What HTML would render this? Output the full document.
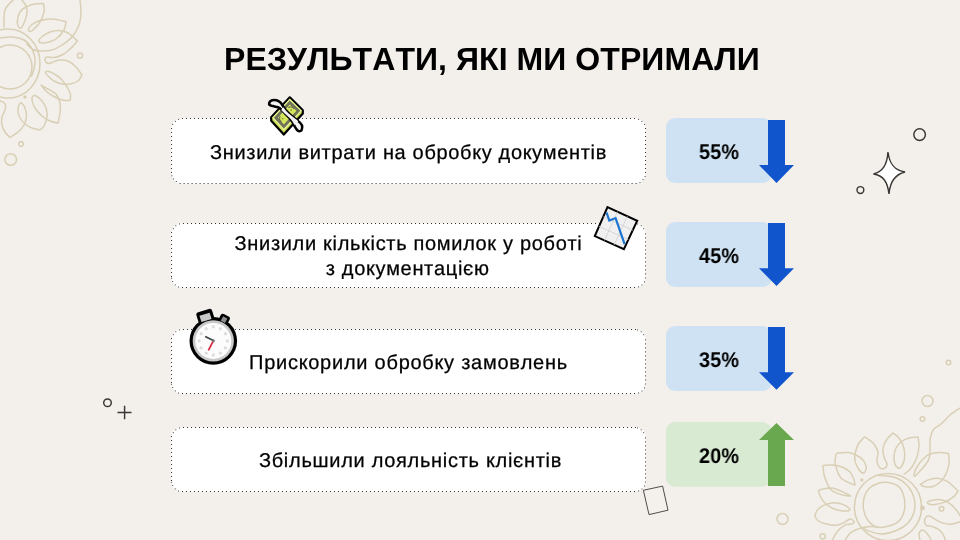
<!DOCTYPE html>
<html><head><meta charset="utf-8">
<style>
html,body{margin:0;padding:0;}
body{width:960px;height:540px;overflow:hidden;background:#f3f0ec;font-family:"Liberation Sans",sans-serif;position:relative;}
.abs{position:absolute;}
#title,.tx,.pt{will-change:transform;text-rendering:geometricPrecision;font-kerning:none;}
#title{font-kerning:none;position:absolute;left:0;width:984px;top:40.85px;text-align:center;font-weight:bold;font-size:32px;line-height:36px;color:#000;white-space:nowrap;letter-spacing:0.07px;}
.tx{position:absolute;left:171px;width:475px;text-align:center;font-size:20px;line-height:25px;color:#000;letter-spacing:0.72px;-webkit-text-stroke:0.25px #000;white-space:nowrap;}
.pt{position:absolute;left:666.25px;width:106px;text-align:center;font-weight:bold;font-size:21.3px;line-height:24px;color:#000;letter-spacing:0.2px;transform:scaleX(0.93);}
</style></head><body>
<svg class="abs" style="left:0;top:0" width="960" height="540" viewBox="0 0 960 540">
<g fill="none" stroke="#d9cfb5" stroke-width="1.5" stroke-linejoin="round" stroke-linecap="round">
<path d="M4.0 27.0C4.2 24.2 3.5 14.5 5.0 10.0C6.5 5.5 11.7 1.7 13.0 0.0M22.0 0.0C22.7 1.0 25.2 3.8 26.0 6.0C26.8 8.2 27.3 10.2 27.0 13.0C26.7 15.8 25.0 20.5 24.0 23.0C23.0 25.5 22.0 27.5 21.0 28.0C20.0 28.5 18.6 27.3 18.0 26.0C17.4 24.7 17.2 22.3 17.5 20.0C17.8 17.7 18.6 14.2 20.0 12.0C21.4 9.8 23.5 8.3 26.0 7.0C28.5 5.7 32.1 4.6 35.0 4.0C37.9 3.4 42.1 3.6 43.5 3.5M43.5 3.5C43.6 4.9 44.6 8.9 44.0 12.0C43.4 15.1 41.8 19.0 40.0 22.0C38.2 25.0 34.7 28.4 33.0 30.0C31.3 31.6 30.8 31.7 30.0 31.5C29.2 31.3 28.2 30.2 28.5 29.0C28.8 27.8 30.1 25.9 32.0 24.5C33.9 23.1 36.7 21.4 40.0 20.5C43.3 19.6 47.7 18.8 52.0 19.0C56.3 19.2 63.7 21.1 66.0 21.5M66.0 21.5C65.7 22.9 65.7 27.1 64.0 30.0C62.3 32.9 58.8 36.9 56.0 39.0C53.2 41.1 49.7 41.9 47.0 42.5C44.3 43.1 41.3 42.9 40.0 42.5C38.7 42.1 38.5 41.1 39.0 40.0C39.5 38.9 41.2 37.3 43.0 36.0C44.8 34.7 47.3 32.9 50.0 32.0C52.7 31.1 56.0 30.3 59.0 30.5C62.0 30.7 64.9 31.2 68.0 33.0C71.1 34.8 75.9 39.7 77.5 41.0M77.5 41.0C76.2 42.3 72.6 46.7 70.0 49.0C67.4 51.3 64.7 53.6 62.0 55.0C59.3 56.4 56.5 57.2 54.0 57.5C51.5 57.8 48.5 56.6 47.0 57.0C45.5 57.4 44.8 58.9 45.0 60.0C45.2 61.1 46.8 63.1 48.0 63.5C49.2 63.9 50.2 63.1 52.0 62.5C53.8 61.9 56.3 60.2 59.0 60.0C61.7 59.8 65.2 59.8 68.0 61.0C70.8 62.2 73.7 64.7 76.0 67.0C78.3 69.3 81.0 73.7 82.0 75.0M82.0 75.0C81.3 76.0 80.0 79.5 78.0 81.0C76.0 82.5 72.7 83.5 70.0 84.0C67.3 84.5 64.7 84.5 62.0 84.0C59.3 83.5 56.3 82.3 54.0 81.0C51.7 79.7 49.4 77.4 48.0 76.0C46.6 74.6 45.3 73.2 45.5 72.5C45.7 71.8 47.2 71.1 49.0 71.5C50.8 71.9 53.8 73.6 56.0 75.0C58.2 76.4 60.2 78.0 62.0 80.0C63.8 82.0 65.6 84.7 67.0 87.0C68.4 89.3 70.0 91.8 70.5 94.0C71.0 96.2 70.1 99.4 70.0 100.5M70.0 100.5C68.7 100.4 64.8 100.8 62.0 100.0C59.2 99.2 55.7 97.5 53.0 96.0C50.3 94.5 48.0 92.8 46.0 91.0C44.0 89.2 41.8 86.0 41.0 85.0M41.0 85.0C42.2 85.7 45.5 87.5 48.0 89.0C50.5 90.5 54.0 91.7 56.0 94.0C58.0 96.3 59.3 99.8 60.0 103.0C60.7 106.2 60.3 109.7 60.0 113.0C59.7 116.3 58.3 121.3 58.0 123.0M58.0 123.0C56.7 122.7 52.7 122.2 50.0 121.0C47.3 119.8 44.5 118.2 42.0 116.0C39.5 113.8 36.7 110.7 35.0 108.0C33.3 105.3 32.3 102.0 32.0 100.0C31.7 98.0 32.2 96.6 33.0 96.0C33.8 95.4 35.5 95.7 37.0 96.5C38.5 97.3 40.5 99.1 42.0 101.0C43.5 102.9 45.2 105.3 46.0 108.0C46.8 110.7 47.3 114.0 47.0 117.0C46.7 120.0 45.2 123.8 44.0 126.0C42.8 128.2 40.7 129.3 40.0 130.0M40.0 130.0C38.7 129.7 34.5 129.0 32.0 128.0C29.5 127.0 27.0 125.7 25.0 124.0C23.0 122.3 21.2 120.2 20.0 118.0C18.8 115.8 18.2 113.2 18.0 111.0C17.8 108.8 18.4 106.3 19.0 105.0C19.6 103.7 20.5 102.5 21.5 103.0C22.5 103.5 24.2 105.8 25.0 108.0C25.8 110.2 26.7 113.2 26.5 116.0C26.3 118.8 25.4 122.3 24.0 125.0C22.6 127.7 20.3 129.9 18.0 132.0C15.7 134.1 11.3 136.6 10.0 137.5M10.0 137.5C9.2 136.6 6.3 134.1 5.0 132.0C3.7 129.9 2.5 127.5 2.0 125.0C1.5 122.5 1.5 119.5 2.0 117.0C2.5 114.5 4.4 112.0 5.0 110.0C5.6 108.0 5.8 106.3 5.5 105.0C5.2 103.7 3.9 102.7 3.0 102.0C2.1 101.3 0.5 101.2 0.0 101.0M80.0 0.0C80.2 2.2 81.2 8.8 81.0 13.0C80.8 17.2 80.5 21.0 79.0 25.0C77.5 29.0 74.8 33.7 72.0 37.0C69.2 40.3 65.3 42.8 62.0 45.0C58.7 47.2 55.7 49.0 52.0 50.0C48.3 51.0 43.3 51.2 40.0 51.0C36.7 50.8 34.2 50.2 32.0 49.0C29.8 47.8 27.8 44.8 27.0 44.0M0.0 38.0C2.0 37.8 8.0 36.7 12.0 37.0C16.0 37.3 20.8 38.3 24.0 40.0C27.2 41.7 29.3 44.7 31.0 47.0C32.7 49.3 33.3 51.7 34.0 54.0C34.7 56.3 35.0 58.5 35.0 61.0C35.0 63.5 34.6 66.5 34.0 69.0C33.4 71.5 31.9 74.8 31.5 76.0"/>
<path d="M893.0 433.0C892.0 434.0 888.7 436.5 887.0 439.0C885.3 441.5 883.5 445.0 883.0 448.0C882.5 451.0 883.3 454.3 884.0 457.0C884.7 459.7 886.8 462.2 887.0 464.0C887.2 465.8 886.0 467.2 885.0 468.0C884.0 468.8 882.2 469.0 881.0 468.5C879.8 468.0 878.7 466.6 878.0 465.0C877.3 463.4 877.0 461.2 877.0 459.0C877.0 456.8 878.5 454.5 878.0 452.0C877.5 449.5 875.7 446.2 874.0 444.0C872.3 441.8 869.6 440.2 868.0 439.0C866.4 437.8 865.1 437.3 864.5 437.0M864.5 437.0C863.6 438.0 860.5 440.5 859.0 443.0C857.5 445.5 856.2 449.0 855.5 452.0C854.8 455.0 854.6 458.3 855.0 461.0C855.4 463.7 856.8 466.0 858.0 468.0C859.2 470.0 861.2 472.5 862.5 473.0C863.8 473.5 864.9 472.2 865.5 471.0C866.1 469.8 866.4 467.8 866.0 466.0C865.6 464.2 864.7 461.8 863.0 460.0C861.3 458.2 858.5 456.2 856.0 455.0C853.5 453.8 851.0 452.8 848.0 452.5C845.0 452.2 840.0 452.7 838.0 453.0C836.0 453.3 836.3 454.2 836.0 454.5M836.0 454.5C835.8 455.8 834.8 459.4 835.0 462.0C835.2 464.6 836.0 467.3 837.0 470.0C838.0 472.7 838.9 475.8 841.0 478.0C843.1 480.2 847.3 482.0 849.6 483.2C851.9 484.4 854.1 484.7 855.0 485.0M855.0 485.0C854.8 484.0 854.6 481.1 853.8 478.9C853.0 476.7 852.0 474.0 850.0 472.0C848.0 470.0 844.8 468.2 842.0 467.0C839.2 465.8 836.2 465.2 833.0 465.0C829.8 464.8 824.7 465.4 823.0 465.5M823.0 465.5C823.1 466.9 823.4 471.4 823.9 474.0C824.4 476.6 825.3 478.9 826.3 481.3C827.3 483.8 828.4 486.8 830.0 488.7C831.6 490.6 833.6 491.8 836.1 492.9C838.6 494.0 842.2 494.9 844.7 495.4C847.2 495.9 849.8 495.9 850.8 496.0M850.8 496.0C849.2 495.2 844.1 492.4 841.0 491.1C837.9 489.8 835.2 488.5 832.4 488.1C829.5 487.7 826.2 488.3 823.9 488.7C821.6 489.1 819.3 490.2 818.4 490.5M818.4 490.5C818.7 491.4 819.1 493.9 820.2 496.0C821.3 498.1 823.1 501.3 825.1 503.3C827.1 505.3 829.8 507.0 832.4 508.2C835.0 509.4 838.4 510.3 841.0 510.7C843.6 511.1 846.9 511.0 848.3 510.7C849.7 510.4 850.4 509.8 849.6 508.8C848.8 507.8 846.0 505.6 843.5 504.6C841.0 503.6 838.0 502.7 834.9 502.7C831.8 502.7 828.0 503.5 825.1 504.6C822.2 505.7 819.5 507.7 817.8 509.5C816.1 511.3 815.2 514.6 814.7 515.6M814.7 515.6C815.2 516.4 815.9 519.1 817.8 520.5C819.7 521.9 823.2 523.3 826.3 524.1C829.3 524.9 833.2 525.5 836.1 525.3C839.0 525.1 841.2 523.9 843.5 522.9C845.8 521.9 848.0 519.6 849.6 519.2C851.2 518.8 852.5 519.9 853.2 520.5C853.9 521.1 854.2 522.3 853.8 522.9C853.4 523.5 852.3 523.7 850.8 524.1C849.3 524.5 847.0 524.1 844.7 525.3C842.5 526.5 839.3 529.0 837.3 531.5C835.2 534.0 833.2 538.6 832.4 540.0M893.0 433.0C893.8 433.7 896.4 435.2 898.0 437.0C899.6 438.8 901.4 441.5 902.5 444.0C903.6 446.5 904.2 449.2 904.5 452.0C904.8 454.8 904.6 458.5 904.0 461.0C903.4 463.5 902.0 465.8 901.0 467.0C900.0 468.2 899.0 468.5 898.0 468.0C897.0 467.5 895.7 466.0 895.0 464.0C894.3 462.0 893.8 458.7 894.0 456.0C894.2 453.3 894.8 450.3 896.0 448.0C897.2 445.7 898.8 443.7 901.0 442.0C903.2 440.3 906.2 438.8 909.0 438.0C911.8 437.2 916.5 437.2 918.0 437.0M918.0 437.0C918.2 438.5 919.2 442.7 919.0 446.0C918.8 449.3 918.2 453.5 917.0 457.0C915.8 460.5 913.8 464.3 912.0 467.0C910.2 469.7 907.3 471.8 906.0 473.0C904.7 474.2 904.3 473.8 904.0 474.0M960.0 408.0C958.3 409.2 953.2 412.3 950.0 415.0C946.8 417.7 943.7 421.7 941.0 424.0C938.3 426.3 935.8 426.8 934.0 429.0C932.2 431.2 931.2 434.2 930.5 437.0C929.8 439.8 930.2 442.7 930.0 446.0C929.8 449.3 930.2 454.0 929.5 457.0C928.8 460.0 927.6 461.7 926.0 464.0C924.4 466.3 921.8 469.0 920.0 471.0C918.2 473.0 916.0 475.5 915.0 476.0C914.0 476.5 913.7 475.5 914.0 474.0C914.3 472.5 915.5 469.5 917.0 467.0C918.5 464.5 920.8 461.2 923.0 459.0C925.2 456.8 927.3 455.1 930.0 454.0C932.7 452.9 935.9 452.6 939.0 452.5C942.1 452.4 946.9 453.3 948.5 453.5M948.5 453.5C948.6 455.2 949.4 460.6 949.0 464.0C948.6 467.4 947.3 471.1 946.0 474.0C944.7 476.9 943.0 479.3 941.0 481.3C939.0 483.3 936.4 485.3 933.7 486.2C931.1 487.1 927.4 487.1 925.1 486.8C922.9 486.5 921.0 484.8 920.2 484.4M920.2 484.4C921.4 483.7 924.8 481.1 927.6 480.1C930.5 479.1 934.0 478.1 937.3 478.3C940.5 478.5 944.0 479.6 947.1 481.3C950.2 483.0 953.9 487.1 955.7 488.7C957.5 490.3 957.7 490.7 958.1 491.1M958.1 491.1C957.3 492.1 955.4 495.4 953.2 497.2C951.0 499.0 947.8 500.9 944.7 502.1C941.7 503.3 937.5 504.3 934.9 504.6C932.2 504.9 930.0 504.4 928.8 504.0C927.6 503.6 927.0 502.7 927.6 502.1C928.2 501.5 930.3 500.7 932.5 500.3C934.7 499.9 938.1 499.2 941.0 499.7C943.9 500.2 947.0 501.5 949.6 503.3C952.2 505.1 955.2 508.6 956.9 510.7C958.6 512.8 959.5 514.8 960.0 515.6M960.0 521.7C958.7 522.1 955.0 523.9 952.0 524.1C949.0 524.3 945.1 523.7 942.2 522.9C939.4 522.1 936.9 520.3 934.9 519.2C932.9 518.1 931.4 516.6 930.0 516.2C928.6 515.8 927.2 515.9 926.3 516.8C925.4 517.7 924.5 520.3 924.5 521.7C924.5 523.1 925.0 524.5 926.3 525.3C927.6 526.1 930.2 525.8 932.5 526.6C934.8 527.4 937.8 528.4 939.8 530.2C941.8 532.0 943.9 535.8 944.7 537.6C945.5 539.4 944.7 540.4 944.7 541.0M920.2 541.0C920.0 539.8 918.8 535.7 919.0 533.9C919.2 532.1 920.5 530.6 921.5 530.2C922.5 529.8 923.7 530.3 925.1 531.5C926.5 532.7 929.0 536.0 930.0 537.6C931.0 539.2 931.0 540.4 931.2 541.0M844.7 541.0C845.7 539.6 847.9 534.9 850.8 532.7C853.6 530.5 858.3 528.8 861.8 527.8C865.3 526.8 869.1 526.7 871.6 526.6C874.1 526.5 876.1 526.9 877.0 527.0M878.7 475.2C881.6 475.6 890.9 475.9 895.8 477.7C900.7 479.5 905.0 482.8 908.0 486.2C911.0 489.6 913.1 494.1 914.1 498.4C915.1 502.7 915.1 507.8 914.1 511.9C913.1 516.0 910.9 519.8 908.0 522.9C905.1 526.0 901.3 528.4 897.0 530.2C892.7 532.0 886.8 533.7 882.3 533.9C877.8 534.1 873.4 532.6 870.0 531.5C866.6 530.4 863.3 528.2 862.0 527.5"/>
<path d="M888.4 482.6C892.1 483.2 896.9 484.8 899.5 487.4C902.1 490.0 903.5 494.5 904.3 498.4C905.1 502.3 905.1 507.0 904.3 510.7C903.5 514.4 901.9 518.0 899.5 520.5C897.1 523.0 893.5 524.7 889.7 525.8C886.0 526.9 880.6 527.9 877.0 527.0C873.4 526.1 870.2 523.4 868.0 520.5C865.8 517.6 864.2 513.4 863.6 509.5C863.0 505.6 863.3 500.7 864.2 497.2C865.1 493.7 866.9 490.7 869.0 488.5C871.1 486.3 873.8 484.8 877.0 483.8C880.2 482.8 884.6 482.0 888.4 482.6Z"/>
<ellipse cx="8.0" cy="63.5" rx="32.0" ry="34.5"/>
<circle cx="10.0" cy="67.0" r="22.0"/>
<circle cx="888.0" cy="507.0" r="33.6"/>
<circle cx="927.5" cy="401.0" r="5.5"/>
<circle cx="922.5" cy="419.0" r="2.3"/>
<circle cx="948.5" cy="362.5" r="2.3"/>
<circle cx="782.5" cy="519.0" r="5.5"/>
<circle cx="941.6" cy="508.8" r="2.3"/>
<circle cx="822.7" cy="536.3" r="2.6"/>
<circle cx="80.0" cy="55.5" r="2.6"/>
<circle cx="21.0" cy="144.0" r="2.3"/>
<circle cx="10.7" cy="159.5" r="5.8"/>
</g>
<g fill="#d9cfb5"><circle cx="922.4" cy="508" r="2.4"/><circle cx="861.8" cy="480" r="1.7"/><circle cx="25" cy="97" r="1.7"/></g>

<!-- boxes -->
<g><rect x="171.5" y="118.5" width="474" height="65" rx="9.5" fill="#fff"/><g stroke="#333" stroke-width="1" stroke-dasharray="1 3" fill="none"><path d="M182 118.5H635"/><path d="M171.5 128V173"/><path d="M645.5 128V173"/><path d="M179.6 183.5H636.7"/></g><g fill="#444"><rect x="178.1" y="118.9" width="1" height="1"/><rect x="174.9" y="120.9" width="1" height="1"/><rect x="172.2" y="123.9" width="1" height="1"/><rect x="638.1" y="118.9" width="1" height="1"/><rect x="641.4" y="120.9" width="1" height="1"/><rect x="644.0" y="123.9" width="1" height="1"/><rect x="171.4" y="175.3" width="1" height="1"/><rect x="172.9" y="178.4" width="1" height="1"/><rect x="175.8" y="181.0" width="1" height="1"/><rect x="644.6" y="176.0" width="1" height="1"/><rect x="642.5" y="179.1" width="1" height="1"/><rect x="639.5" y="181.9" width="1" height="1"/></g></g>
<g><rect x="171.5" y="223.5" width="474" height="64" rx="9.5" fill="#fff"/><g stroke="#333" stroke-width="1" stroke-dasharray="1 3" fill="none"><path d="M183 223.5H636"/><path d="M171.5 232V277"/><path d="M645.5 274.4V231"/><path d="M182 287.5H635"/></g><g fill="#4a4a4a"><rect x="179.0" y="223.5" width="1" height="1"/><rect x="175.3" y="225.3" width="1" height="1"/><rect x="172.9" y="228.2" width="1" height="1"/><rect x="637.0" y="223.5" width="1" height="1"/><rect x="640.7" y="225.3" width="1" height="1"/><rect x="643.1" y="228.2" width="1" height="1"/><rect x="171.1" y="277.8" width="1" height="1"/><rect x="172.2" y="281.0" width="1" height="1"/><rect x="174.8" y="284.4" width="1" height="1"/><rect x="178.0" y="286.5" width="1" height="1"/><rect x="638.1" y="286.4" width="1" height="1"/><rect x="641.4" y="284.5" width="1" height="1"/><rect x="644.0" y="281.4" width="1" height="1"/><rect x="644.9" y="277.5" width="1" height="1"/></g></g>
<g><rect x="171.5" y="329.5" width="474" height="64" rx="9.5" fill="#fff"/><g stroke="#333" stroke-width="1" stroke-dasharray="1 3" fill="none"><path d="M183 329.5H636"/><path d="M171.5 338V383"/><path d="M645.5 380.4V337"/><path d="M182 393.5H635"/></g><g fill="#4a4a4a"><rect x="179.0" y="329.5" width="1" height="1"/><rect x="175.3" y="331.3" width="1" height="1"/><rect x="172.9" y="334.2" width="1" height="1"/><rect x="637.0" y="329.5" width="1" height="1"/><rect x="640.7" y="331.3" width="1" height="1"/><rect x="643.1" y="334.2" width="1" height="1"/><rect x="171.1" y="383.8" width="1" height="1"/><rect x="172.2" y="387.0" width="1" height="1"/><rect x="174.8" y="390.4" width="1" height="1"/><rect x="178.0" y="392.5" width="1" height="1"/><rect x="638.1" y="392.4" width="1" height="1"/><rect x="641.4" y="390.5" width="1" height="1"/><rect x="644.0" y="387.4" width="1" height="1"/><rect x="644.9" y="383.5" width="1" height="1"/></g></g>
<g><rect x="171.5" y="427.5" width="474" height="64" rx="9.5" fill="#fff"/><g stroke="#333" stroke-width="1" stroke-dasharray="1 3" fill="none"><path d="M183 427.5H636"/><path d="M171.5 436V481"/><path d="M645.5 478.4V435"/><path d="M182 491.5H635"/></g><g fill="#4a4a4a"><rect x="179.0" y="427.5" width="1" height="1"/><rect x="175.3" y="429.3" width="1" height="1"/><rect x="172.9" y="432.2" width="1" height="1"/><rect x="637.0" y="427.5" width="1" height="1"/><rect x="640.7" y="429.3" width="1" height="1"/><rect x="643.1" y="432.2" width="1" height="1"/><rect x="171.1" y="481.8" width="1" height="1"/><rect x="172.2" y="485.0" width="1" height="1"/><rect x="174.8" y="488.4" width="1" height="1"/><rect x="178.0" y="490.5" width="1" height="1"/><rect x="638.1" y="490.4" width="1" height="1"/><rect x="641.4" y="488.5" width="1" height="1"/><rect x="644.0" y="485.4" width="1" height="1"/><rect x="644.9" y="481.5" width="1" height="1"/></g></g>

<g fill="#cfe2f3">
<rect x="666" y="118" width="106" height="65" rx="9"/>
<rect x="666" y="222" width="106" height="65" rx="9"/>
<rect x="666" y="326" width="106" height="65" rx="9"/>
</g>
<rect x="666" y="422" width="105.5" height="64.7" rx="9" fill="#d9ead3"/>
<g fill="#1155cc">
<path d="M768 120h17v45h9l-17.5 18l-17.5-18h9z"/>
<path d="M768 223.1h17v45.1h9l-17.5 17.8l-17.5-17.8h9z"/>
<path d="M768 326.9h17v45.4h9l-17.5 17.5l-17.5-17.5h9z"/>
</g>
<path fill="#6aa84f" d="M768 486h17v-46h9l-17.5-17l-17.5 17h9z"/>
<!-- star + circles -->
<g fill="none" stroke="#3a3634" stroke-width="1.45">
<path fill="#fff" d="M888 152C889.5 165 895 170.5 905 172C895 174.5 890 181 889 194C887.5 181 883 175.5 873.5 174C883 171.5 887 165 888 152Z"/>
<circle cx="919.6" cy="134.6" r="5.8"/>
<circle cx="860.4" cy="190" r="3.4"/>
<circle cx="107.5" cy="402.7" r="3.8"/>
<path d="M117.5 412.5H131.5M124.6 405.8V419.2"/>
</g>
<!-- rotated square -->
<path d="M643.4 490.3L662.6 486.1L668 510.2L649 514.6Z" fill="#f4f1ed" stroke="#222" stroke-width="0.8"/>
<!-- money icon -->
<g stroke-linejoin="round">
<path d="M289.8 97.3L302.8 110.2L302.8 113.5L283.8 134.6L271.2 120.8L271.2 117.2Z" fill="#c9d94f" stroke="#000" stroke-width="2.2"/>
<path d="M289.8 98.6L302 110.8L283.8 130.9L272 117.8Z" fill="#e6f08e"/>
<path d="M289.8 100.6L300.3 110.8L283.8 128.6L273.9 117.8Z" fill="#6e7158"/>
<path d="M289.8 104.4L296.5 110.8L283.8 124.4L277.8 117.8Z" fill="#d6e75e"/>
<path d="M288.3 107.8c2-1.6 4.6-1 5.6 1.2M280.3 116.2c-1.6 2-1 4.4 1.2 5.4" fill="none" stroke="#6e7158" stroke-width="1.3"/>
<circle cx="291.2" cy="110" r="0.9" fill="#8a9a2e"/><circle cx="282.6" cy="118.6" r="0.9" fill="#8a9a2e"/>
<path d="M269.2 103C269.9 101.1 271.7 100.1 274 100.1C277 100.1 280.3 101.4 282.5 105.4C284.7 109.5 287.2 112.2 289.8 114.3C292.8 116.7 296.8 119.8 300 122.6C301.8 124.2 302.4 125.6 302.2 127.5C302 129.3 301.7 130.5 300.7 131C299.7 131.5 298.6 131.4 297.6 130.5C296.4 129.4 295.6 128 294.8 126.6C294.2 125.4 293.6 124.2 293 123C290.9 119.3 288.4 116.4 285.5 114C283.4 112.2 281.8 109.8 279.9 108.2C278.8 107.4 277.4 106.9 275.9 106.7C274.3 106.4 272.9 106.2 271.4 105.8C269.8 105.3 268.8 104.3 269.2 103Z" fill="#f4f4f4" stroke="#000" stroke-width="2.5"/>
<path d="M283.4 107.2C285.8 110.8 288 113 290.6 115C293 117 295.6 118.8 298.4 121.2L294.6 125C292.6 121.2 290.2 118.2 287.2 115.8C285 114 283.2 112 281.2 110Z" fill="#f1f1f1"/>
</g>
<!-- chart icon -->
<g>
<path d="M607.5 207.2L637.2 220.8L623.9 249.1L594.8 236.1Z" fill="#f0f0f0" stroke="#000" stroke-width="2" stroke-linejoin="miter"/>
<path d="M603.3 216.8L632.8 230.2M599 226.4L628.4 239.6M617.4 211.7L604.5 240.4M627.3 216.3L614.2 244.8" stroke="#cfcfcf" stroke-width="0.8" fill="none"/>
<path d="M606.6 212.5L609.3 220.6L615.6 218.1L624.6 244.2" stroke="#1b75d0" stroke-width="2.2" fill="none" stroke-linejoin="miter"/>
</g>
<!-- stopwatch -->
<g>
<rect x="-8.2" y="-5.6" width="16.4" height="12" rx="2.6" transform="translate(205.2 316) rotate(-17)" fill="#000"/>
<rect x="-5" y="-4" width="10" height="9" rx="2.4" transform="translate(224.4 318.8) rotate(28)" fill="#000"/>
<circle cx="213.3" cy="340.9" r="23.8" fill="#000"/>
<circle cx="213.3" cy="340.9" r="20.6" fill="#c8c8c8"/>
<rect x="-5.3" y="-2.9" width="10.6" height="6.6" transform="translate(205.4 317) rotate(-17)" fill="#c8c8c8"/>
<rect x="-2.4" y="-2.2" width="4.8" height="5" transform="translate(224.2 319.4) rotate(28)" fill="#8c8c8c"/>
<circle cx="213.3" cy="340.9" r="18" fill="#fcfcfc"/>
<g fill="#dedede"><circle cx="213.3" cy="326.8" r="1.7"/><circle cx="220.4" cy="328.7" r="1.7"/><circle cx="225.5" cy="333.8" r="1.7"/><circle cx="227.4" cy="340.9" r="1.7"/><circle cx="225.5" cy="347.9" r="1.7"/><circle cx="220.4" cy="353.1" r="1.7"/><circle cx="213.3" cy="355.0" r="1.7"/><circle cx="206.2" cy="353.1" r="1.7"/><circle cx="201.1" cy="347.9" r="1.7"/><circle cx="199.2" cy="340.9" r="1.7"/><circle cx="201.1" cy="333.8" r="1.7"/><circle cx="206.2" cy="328.7" r="1.7"/></g>
<path d="M213.8 340.8L205.2 336.4" stroke="#3c4447" stroke-width="1.7" fill="none"/>
<path d="M213.2 341.2L208.4 350.4" stroke="#d7263d" stroke-width="1.7" fill="none"/>
<circle cx="213.5" cy="340.9" r="1.4" fill="#777"/>
</g>

</svg>
<div id="title">РЕЗУЛЬТАТИ, ЯКІ МИ ОТРИМАЛИ</div>
<div class="tx" style="top:140.5px;left:171.2px;letter-spacing:0.67px">Знизили витрати на обробку документів</div>
<div class="tx" style="top:231.6px;left:171.4px;letter-spacing:0.685px">Знизили кількість помилок у роботі<br><span style="position:relative;left:-0.8px;top:0.3px">з документацією</span></div>
<div class="tx" style="top:350.5px;left:170.6px;letter-spacing:0.75px">Прискорили обробку замовлень</div>
<div class="tx" style="top:448.7px;left:172.5px">Збільшили лояльність клієнтів</div>
<div class="pt" style="top:139.8px">55%</div>
<div class="pt" style="top:243.8px">45%</div>
<div class="pt" style="top:347.8px">35%</div>
<div class="pt" style="top:443.8px">20%</div>
</body></html>
